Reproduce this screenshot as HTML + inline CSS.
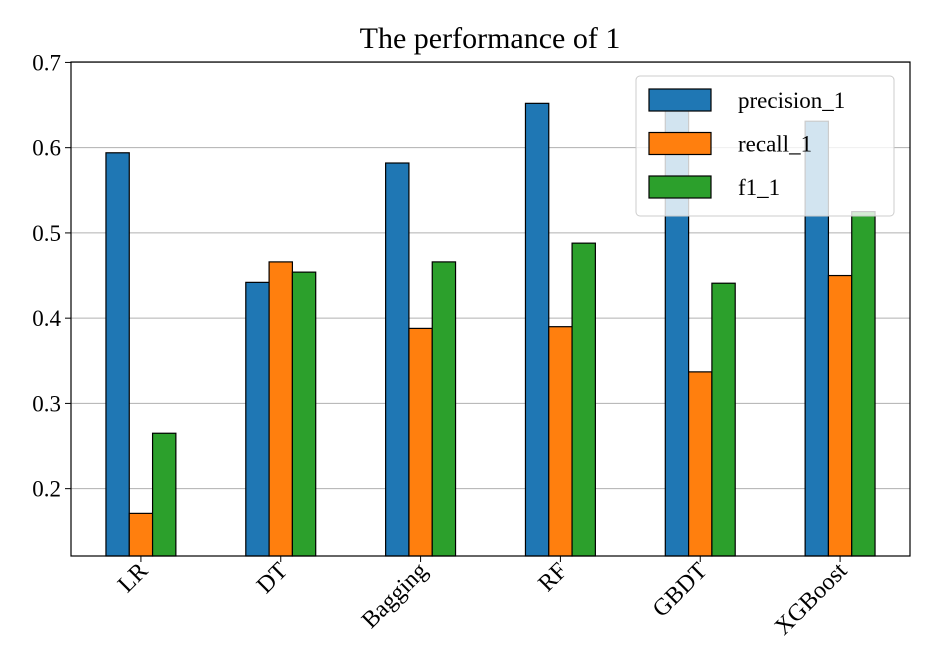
<!DOCTYPE html>
<html><head><meta charset="utf-8"><style>
body{margin:0;background:#fff}
svg{display:block;font-family:"Liberation Serif",serif}
</style></head><body>
<svg id="chart" width="926" height="672">
<text x="490" y="48" font-size="30" text-anchor="middle">The performance of 1</text>
<g id="grid"></g><g id="bars"></g><g id="axes"></g><g id="legend"></g>
</svg>
<script>
const categories=["LR","DT","Bagging","RF","GBDT","XGBoost"];
const seriesNames=["precision_1","recall_1","f1_1"];
const precision=[0.594,0.442,0.582,0.652,0.645,0.631];
const recall=[0.171,0.466,0.388,0.390,0.337,0.450];
const f1=[0.265,0.454,0.466,0.488,0.441,0.525];
const yTicks=[0.2,0.3,0.4,0.5,0.6,0.7];
const colors=["#1f77b4","#ff7f0e","#2ca02c"];
const NS="http://www.w3.org/2000/svg";
const L=71,R=910,T=62,B=556,yMin=0.121,yMax=0.7005;
const y=v=>B-(v-yMin)/(yMax-yMin)*(B-T);
const step=(R-L)/categories.length;
const xc=i=>L+step*(i+0.5);
const bw=step*0.5/3;
function mk(tag,attrs,parent){const e=document.createElementNS(NS,tag);for(const k in attrs)e.setAttribute(k,attrs[k]);parent.appendChild(e);return e;}
const grid=document.getElementById('grid'),bars=document.getElementById('bars'),axes=document.getElementById('axes'),leg=document.getElementById('legend');
yTicks.forEach(t=>{
 const g=mk('line',{x1:L,x2:R,y1:y(t),y2:y(t),stroke:'#b0b0b0','stroke-width':1},grid);
 
 
 mk('line',{x1:L-6,x2:L,y1:y(t),y2:y(t),stroke:'#000','stroke-width':1},axes);
 const tx=mk('text',{x:L-10,y:y(t)+8,'font-size':23,'text-anchor':'end'},axes);
 tx.textContent=t.toFixed(1);
 
 
});
const data=[precision,recall,f1];
categories.forEach((c,i)=>{
 data.forEach((s,j)=>{
  const x0=xc(i)+(j-1.5)*bw;
  const r=mk('rect',{x:x0,y:y(s[i]),width:bw,height:B-y(s[i]),fill:colors[j],stroke:'#000','stroke-width':1.2},bars);
  
  
 });
 mk('line',{x1:xc(i),x2:xc(i),y1:B,y2:B+6,stroke:'#000'},axes);
 const tx=mk('text',{x:xc(i)+8,y:B+16,'font-size':24,'text-anchor':'end',transform:`rotate(-45 ${xc(i)+8} ${B+16})`},axes);
 tx.textContent=c;
 
 
});
const fr=mk('rect',{x:L,y:T,width:R-L,height:B-T,fill:'none',stroke:'#000','stroke-width':1.2},axes);


const lb=mk('rect',{x:636,y:76,width:258,height:140,rx:4,fill:'rgba(255,255,255,0.8)',stroke:'#ccc'},leg);


seriesNames.forEach((n,j)=>{
 const yy=100+j*43.5;
 const p=mk('rect',{x:649,y:yy-11,width:62,height:22,fill:colors[j],stroke:'#000','stroke-width':1.2},leg);
 
 
 const t=mk('text',{x:738,y:yy+8,'font-size':23},leg);
 t.textContent=n;
 
 
});
</script>
</body></html>
